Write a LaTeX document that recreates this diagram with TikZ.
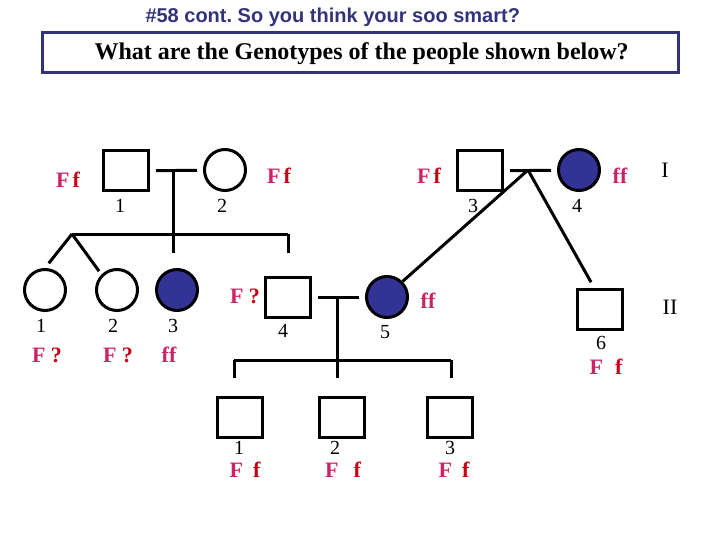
\documentclass[tikz,border=0pt]{standalone}
\usepackage{fontspec}
\setmainfont{Liberation Serif}
\newfontfamily\headfont{Liberation Sans}
\usepackage{tikz}
\definecolor{headblue}{RGB}{51,51,122}
\definecolor{hitblue}{RGB}{51,51,150}
\definecolor{domF}{RGB}{204,34,102}
\definecolor{recf}{RGB}{200,0,20}
\newcommand{\gF}{\textcolor{domF}{F}}
\newcommand{\gf}{\textcolor{recf}{f}}
\newcommand{\gq}{\textcolor{recf}{?}}
\newcommand{\gff}{\textcolor{domF}{ff}}
\frenchspacing

\begin{document}
\begin{tikzpicture}[x=1pt,y=-1pt,line width=3pt,
  male/.style={draw,rectangle,minimum width=45pt,minimum height=40pt,inner sep=0pt},
  female/.style={draw,circle,minimum size=41pt,inner sep=0pt},
  hit/.style={fill=hitblue},
  num/.style={inner sep=0pt,font=\fontsize{20}{20}\selectfont},
  geno/.style={inner sep=0pt,font=\fontsize{22}{22}\selectfont\bfseries},
  gap/.style={shorten <=6pt,shorten >=6pt}]
 \useasboundingbox (0,0) rectangle (720,540);
 %heading
 \node[anchor=base west,inner sep=0pt,text=headblue,font=\headfont\bfseries\fontsize{20}{20}\selectfont] (head) at (144,23) {\#58 cont. So you think your soo smart?};
 \draw[headblue] (42,33) rectangle (678,73);
 \node[anchor=base west,inner sep=0pt,font=\bfseries\fontsize{24}{24}\selectfont] (ask) at (93,60) {What are the Genotypes of the people shown below?};

 %gen I
 \node[male] (s1) at (126,171) {};
 \node[female] (c2) at (225,170) {};
 \node[male] (s3) at (480,171) {};
 \node[female,hit] (c4) at (579,170) {};
 \node[geno] (l1) at (68,180) {\gF\hspace{3pt}\gf};
 \node[geno] (l2) at (279,176) {\gF\hspace{3pt}\gf};
 \node[geno] (l3) at (429,176) {\gF\hspace{3pt}\gf};
 \node[geno] (l4) at (620,176) {\gff};
 \node[num] (n1) at (120,206) {1};
 \node[num] (n2) at (222,206) {2};
 \node[num] (n3) at (473,206) {3};
 \node[num] (n4) at (577,206) {4};
 \node[num,font=\fontsize{22}{22}\selectfont] (genI) at (665,170) {I};

 %gen II
 \node[female] (g1) at (45,290) {};
 \node[female] (g2) at (117,290) {};
 \node[female,hit] (g3) at (177,290) {};
 \node[male] (s4) at (288,297) {};
 \node[female,hit] (c5) at (387,297) {};
 \node[male] (s6) at (600,309) {};
 \node[num] (m1) at (41,326) {1};
 \node[num] (m2) at (113,326) {2};
 \node[num] (m3) at (173,326) {3};
 \node[num] (m4) at (283,331) {4};
 \node[num] (m5) at (385,332) {5};
 \node[num] (m6) at (601,343) {6};
 \node[geno] (k1) at (47,355) {\gF\ \gq};
 \node[geno] (k2) at (118,355) {\gF\ \gq};
 \node[geno] (k3) at (169,355) {\gff};
 \node[geno] (k4) at (245,296) {\gF\ \gq};
 \node[geno] (k5) at (428,301) {\gff};
 \node[geno] (k6) at (606,367) {\gF\hspace{12pt}\gf};
 \node[num,font=\fontsize{22}{22}\selectfont] (genII) at (670,307) {II};

 %gen III
 \node[male] (t1) at (240,417) {};
 \node[male] (t2) at (342,417) {};
 \node[male] (t3) at (450,417) {};
 \node[num] (p1) at (239,448) {1};
 \node[num] (p2) at (335,448) {2};
 \node[num] (p3) at (450,448) {3};
 \node[geno] (q1) at (245,470) {\gF\hspace{10pt}\gf};
 \node[geno] (q2) at (343,470) {\gF\hspace{15pt}\gf};
 \node[geno] (q3) at (454,470) {\gF\hspace{10pt}\gf};

 %couple 1-2 and their children
 \coordinate (m12) at (173,170);
 \coordinate (twin) at (72,234);
 \coordinate (sib1) at (173,234);
 \coordinate (sibR) at (288,234);
 \coordinate (d3) at (173,253);
 \coordinate (d4) at (288,253);
 \draw[gap] (s1) -- (c2);
 \draw (m12) -- (sib1);
 \draw (twin) -- (sibR);
 \draw (sib1) -- (d3);
 \draw (sibR) -- (d4);
 \draw[shorten >=6pt] (twin) -- (g1.north);
 \draw[shorten >=4pt] (twin) -- (g2.north west);

 %couple 3-4
 \coordinate (m34) at (528,170);
 \draw[gap] (s3) -- (c4);
 \draw (m34) -- (c5.north east);
 \draw[shorten >=6pt] (m34) -- ([xshift=-6pt]s6.north);

 %couple 4-5 and their sons
 \coordinate (m45) at (337,297);
 \coordinate (sib2) at (337,360);
 \coordinate (sibL) at (234,360);
 \coordinate (sibE) at (451,360);
 \draw[gap] (s4) -- (c5);
 \draw (m45) -- (sib2);
 \draw (sibL) -- (sibE);
 \draw (sibL) -- (234,378) coordinate (e1);
 \draw (sib2) -- (337,378) coordinate (e2);
 \draw (sibE) -- (451,378) coordinate (e3);
\end{tikzpicture}
\end{document}
